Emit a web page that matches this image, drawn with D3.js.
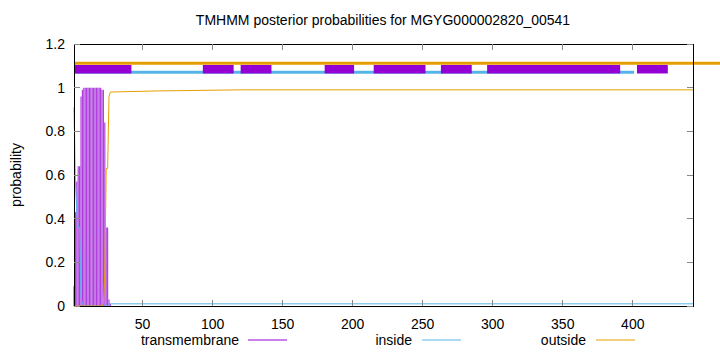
<!DOCTYPE html>
<html>
<head>
<meta charset="utf-8">
<script src="https://cdn.jsdelivr.net/npm/d3@7"></script>
<style>
  body { margin: 0; background: #fff; }
  text { font-family: "Liberation Sans", Arial, sans-serif; font-size: 14px; fill: #000; }
</style>
</head>
<body>
<div class="container"></div>
<script>
// residues 1..27, transmembrane posterior (rest is 0)
const tmStart = 1;
const tmProb = [0.09, 0.43, 0.57, 0.64, 0.64, 0.96, 0.99, 1, 1, 1, 1, 1, 1, 1, 1, 1, 1, 1, 1, 1,
  0.99, 0.99, 0.84, 0.36, 0.36, 0.03, 0.01];

// inside / outside curves as [residue, probability]
const insidePts = [[1, 0.91], [2, 0.57], [3, 0.43], [4, 0.36], [5, 0.36], [6, 0.04], [7, 0.01],
  [8, 0], [25, 0], [26, 0.01], [443, 0.01]];
const outsidePts = [[1, 0.01], [2, 0], [21, 0], [22, 0.01], [23, 0.15], [24, 0.63], [25, 0.63],
  [26, 0.96], [27, 0.98], [60, 0.985], [120, 0.99], [443, 0.99]];

// predicted topology band on top
const topOutside = [[1, 462.5]];
const topInside = [[1, 401]];
const topTM = [[1, 42], [93, 115], [120, 142], [180, 201], [215, 252], [263, 285], [296, 391], [403, 425]];

const xTicks = [50, 100, 150, 200, 250, 300, 350, 400];
const yTicks = [0, 0.2, 0.4, 0.6, 0.8, 1, 1.2];
const title = 'TMHMM posterior probabilities for MGYG000002820_00541';

const width = 720;
const height = 352;
const margin = { left: 74, right: 27, top: 44, bottom: 46 };

const colTM = '#9400d3';
const colIn = '#56b4e9';
const colOut = '#e69f00';

const svg = d3
  .select('.container')
  .append('svg')
  .attr('width', width)
  .attr('height', height);

const x = d3.scaleLinear().domain([1, 443]).range([margin.left, width - margin.right]);
const y = d3.scaleLinear().domain([0, 1.2]).range([height - margin.bottom, margin.top]);

// transmembrane impulses
svg
  .append('g')
  .selectAll('line')
  .data(tmProb)
  .join('line')
  .attr('x1', (d, i) => x(tmStart + i))
  .attr('x2', (d, i) => x(tmStart + i))
  .attr('y1', y(0))
  .attr('y2', (d) => y(d))
  .attr('stroke', colTM)
  .attr('stroke-opacity', 0.75)
  .attr('stroke-width', 1.2);

const line = d3.line().x((d) => x(d[0])).y((d) => y(d[1]));

svg.append('path').datum(insidePts).attr('d', line)
  .attr('fill', 'none').attr('stroke', colIn).attr('stroke-width', 1);
svg.append('path').datum(outsidePts).attr('d', line)
  .attr('fill', 'none').attr('stroke', colOut).attr('stroke-width', 1);

// topology band
svg.append('g').selectAll('line').data(topInside).join('line')
  .attr('x1', (d) => x(d[0])).attr('x2', (d) => x(d[1]))
  .attr('y1', y(1.071)).attr('y2', y(1.071))
  .attr('stroke', colIn).attr('stroke-width', 3);

svg.append('g').selectAll('rect').data(topTM).join('rect')
  .attr('x', (d) => x(d[0]))
  .attr('width', (d) => x(d[1]) - x(d[0]))
  .attr('y', y(1.104))
  .attr('height', y(1.065) - y(1.104))
  .attr('fill', colTM);

svg.append('g').selectAll('line').data(topOutside).join('line')
  .attr('x1', (d) => x(d[0])).attr('x2', (d) => x(d[1]))
  .attr('y1', y(1.112)).attr('y2', y(1.112))
  .attr('stroke', colOut).attr('stroke-width', 3);

// frame and ticks
const x0 = margin.left, x1 = width - margin.right;
const y0 = height - margin.bottom, y1 = margin.top;
const frame = svg.append('g').attr('stroke', '#000').attr('stroke-width', 1).attr('shape-rendering', 'crispEdges');
frame.append('rect').attr('x', x0).attr('y', y1).attr('width', x1 - x0).attr('height', y0 - y1).attr('fill', 'none');

const tl = 6;
yTicks.forEach((t) => {
  frame.append('line').attr('x1', x0).attr('x2', x0 + tl).attr('y1', y(t)).attr('y2', y(t)).attr('stroke', '#888');
  frame.append('line').attr('x1', x1).attr('x2', x1 - tl).attr('y1', y(t)).attr('y2', y(t)).attr('stroke', '#888');
});
xTicks.forEach((t) => {
  frame.append('line').attr('x1', x(t)).attr('x2', x(t)).attr('y1', y0).attr('y2', y0 - tl).attr('stroke', '#888');
  frame.append('line').attr('x1', x(t)).attr('x2', x(t)).attr('y1', y1).attr('y2', y1 + tl).attr('stroke', '#888');
});

svg.append('g').selectAll('text').data(yTicks).join('text')
  .attr('x', x0 - 9).attr('y', (d) => y(d)).attr('dy', '0.35em')
  .attr('text-anchor', 'end')
  .text((d) => d3.format('~g')(d));

svg.append('g').selectAll('text').data(xTicks).join('text')
  .attr('x', (d) => x(d)).attr('y', y0 + 23)
  .attr('text-anchor', 'middle')
  .text((d) => d);

svg.append('text').attr('x', 383).attr('y', 25).attr('text-anchor', 'middle').text(title);

svg.append('text')
  .attr('transform', `translate(21, ${(y0 + y1) / 2}) rotate(-90)`)
  .attr('text-anchor', 'middle')
  .text('probability');

// legend
const legend = [
  { name: 'transmembrane', color: colTM, tx: 239, lx: 248 },
  { name: 'inside', color: colIn, tx: 412, lx: 422 },
  { name: 'outside', color: colOut, tx: 586, lx: 596 },
];
const lg = svg.append('g');
legend.forEach((d) => {
  lg.append('text').attr('x', d.tx).attr('y', 345).attr('text-anchor', 'end').text(d.name);
  lg.append('line').attr('x1', d.lx).attr('x2', d.lx + 39).attr('y1', 340).attr('y2', 340)
    .attr('stroke', d.color).attr('stroke-width', 1);
});
</script>
</body>
</html>
